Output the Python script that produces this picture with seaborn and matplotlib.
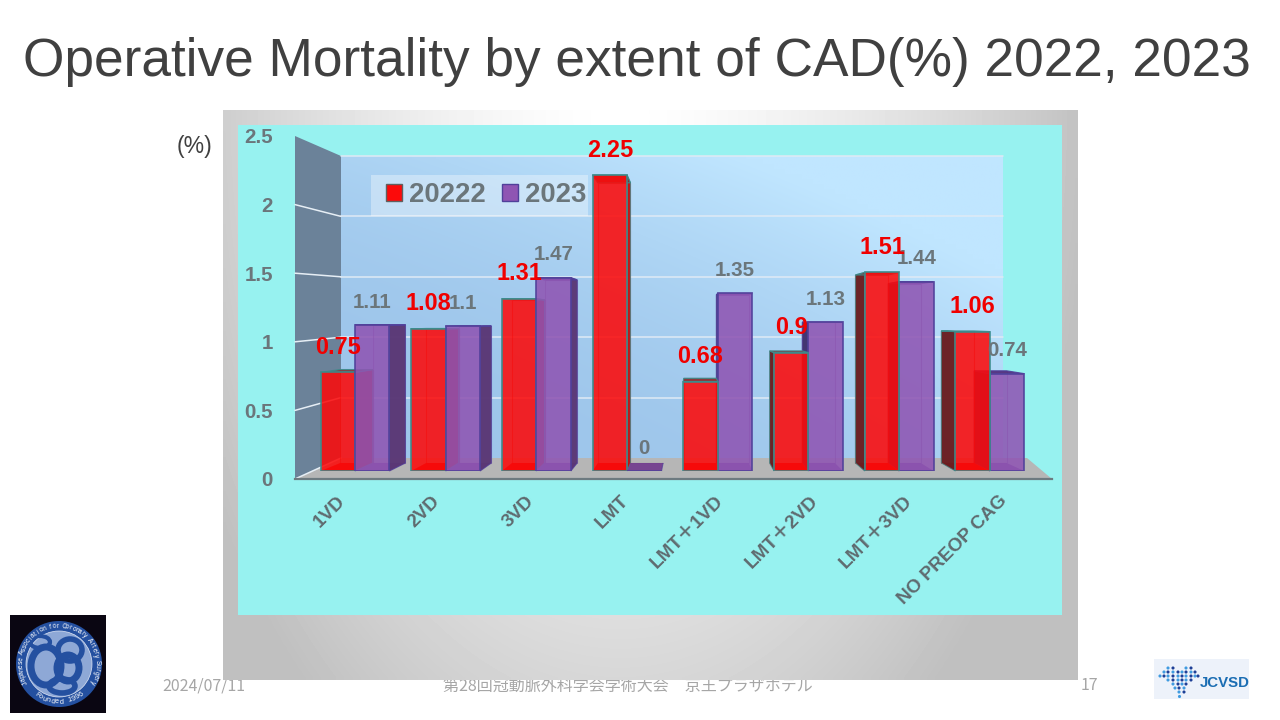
import math
import numpy as np
import pandas as pd
import matplotlib
matplotlib.use("Agg")
import matplotlib.pyplot as plt
from matplotlib.colors import to_rgba
from matplotlib.patches import Polygon, Rectangle, Circle, Ellipse
from matplotlib.transforms import ScaledTranslation
import seaborn as sns

categories = ["1VD", "2VD", "3VD", "LMT", "LMT＋1VD", "LMT＋2VD", "LMT＋3VD", "NO PREOP CAG"]
series_names = ["20222", "2023"]
values_2022 = [0.75, 1.08, 1.31, 2.25, 0.68, 0.9, 1.51, 1.06]
values_2023 = [1.11, 1.1, 1.47, 0, 1.35, 1.13, 1.44, 0.74]
y_ticks = [0, 0.5, 1, 1.5, 2, 2.5]
y_tick_labels = ["0", "0.5", "1", "1.5", "2", "2.5"]
title_text = "Operative Mortality by extent of CAD(%) 2022, 2023"
footer_date = "2024/07/11"
footer_mid = "第28回冠動脈外科学会学術大会　京王プラザホテル"
footer_page = "17"

sns.set_theme(style="white")
plt.rcParams["font.family"] = ["Liberation Sans", "Noto Sans CJK JP", "DejaVu Sans"]

W, H = 1280, 720
PX = 72 / 100  # points per pixel at dpi 100
GREY = "#6b767b"
RED, PURPLE = "#fc0a0a", "#8f55b3"
EDGE = {0: "#3a8c8c", 1: "#50409a"}
SIDE_R = {0: "#c40f10", 1: "#5a3775"}   # faces turned to the right
SIDE_L = {0: "#6a1d20", 1: "#40306e"}   # faces turned to the left
BASE = {0: "#d80808", 1: "#74408f"}
TOP = {0: "#8c3034", 1: "#54307e"}
BACK = {0: "#d01010", 1: "#6a3f90"}


def axpos(x0, x1, ytop, ybot):
    return [x0 / W, 1 - ybot / H, (x1 - x0) / W, (ybot - ytop) / H]


fig = plt.figure(figsize=(12.8, 7.2), dpi=100, facecolor="white")

# ---------- pixel-space backdrop ----------
bg = fig.add_axes([0, 0, 1, 1], zorder=0)
bg.set_axis_off()

fig.text(637 / W, 1 - 62 / H, title_text, ha="center", va="center", color="#404040",
         fontsize=53.3 * PX)

for x, s in [(204, footer_date), (628, footer_mid), (1089, footer_page)]:
    bg.text(x, 686, s, ha="center", va="center", color="#a6a6a6", fontsize=16 * PX,
            family=["Noto Sans CJK JP", "DejaVu Sans"], zorder=0.5)

yy, xx = np.mgrid[110:680:114j, 223:1078:171j]
dist = np.sqrt(((xx - 620) / 430) ** 2 + ((yy - 115) / 700) ** 2)
shade = np.clip(255 - 55 * dist ** 1.5, 192, 255) / 255
bg.imshow(shade, extent=(223, 1078, 680, 110), cmap="gray", vmin=0, vmax=1, aspect="auto",
          interpolation="bilinear", zorder=1)
bg.add_patch(Rectangle((238, 125), 824, 490, fc="#97f2f0", ec="none", zorder=1.1))

yw, xw = np.mgrid[0:1:60j, 0:1:120j]
t = np.clip(0.62 * xw + 0.62 * (1 - yw) - 0.25 * (1 - xw) * yw, 0, 1)
t = np.clip(t ** 2.0, 0, 1)
wall_rgb = np.dstack([(158 + 34 * t) / 255, (198 + 32 * t) / 255, (235 + 20 * t) / 255])
bg.imshow(wall_rgb, extent=(341, 1003, 458, 156), aspect="auto", interpolation="bilinear", zorder=1.2)
bg.add_patch(Polygon([(295, 136), (341, 156), (341, 458), (295, 479)], fc="#6b8299", ec="none", zorder=1.3))
bg.add_patch(Polygon([(295, 479), (1052, 479), (1027, 458), (341, 458)], fc="#b6b6b6", ec="none", zorder=1.3))
for v in y_ticks:
    yf, yb = 479 - v * 137.2, 458 - v * 120.8
    if v < y_ticks[-1]:
        bg.plot([295, 341], [yf, yb], color="#e6eef5", lw=1.1, zorder=1.4)
    if v > 0:
        bg.plot([341, 1003], [yb, yb], color="#dfeaf5", lw=1.1, zorder=1.4)
bg.add_patch(Rectangle((371, 175), 217, 41, fc=to_rgba("white", 0.35), ec="none", zorder=1.5))

# left logo
bg.add_patch(Rectangle((10, 615), 96, 98, fc="#0a0612", ec="none", zorder=1))
cx, cy = 59, 664
bg.add_patch(Circle((cx, cy), 43, fc="#2450a0", ec="none", zorder=1.1))
bg.add_patch(Circle((cx, cy), 33, fc="#8ea8d6", ec="#dfe6f5", lw=0.5, zorder=1.2))
for (ex, ey, ew, eh, lw) in [(46, 666, 30, 38, 5), (70, 650, 24, 22, 4), (68, 668, 22, 26, 5),
                             (62, 686, 26, 14, 4), (40, 642, 20, 12, 3)]:
    bg.add_patch(Ellipse((ex, ey), ew, eh, fc="none", ec="#2450a0", lw=lw, zorder=1.3))
logo_top = "Japanese Association for Coronary Artery Surgery"
for i, ch in enumerate(logo_top):
    ang = math.radians(-118 + 236 * i / (len(logo_top) - 1))
    bg.text(cx + 38 * math.sin(ang), cy - 38 * math.cos(ang), ch, color="white", fontsize=4.8,
            rotation=-math.degrees(ang), rotation_mode="anchor", ha="center", va="center", zorder=1.4)
logo_bot = "Founded 1996"
for i, ch in enumerate(logo_bot):
    ang = math.radians(-36 + 72 * i / (len(logo_bot) - 1))
    bg.text(cx + 38 * math.sin(ang), cy + 38 * math.cos(ang), ch, color="white", fontsize=5.2,
            rotation=math.degrees(ang), rotation_mode="anchor", ha="center", va="center", zorder=1.4)

# right logo
bg.add_patch(Rectangle((1154, 659), 95, 40, fc="#edf2fa", ec="none", zorder=1))
heart_rows = [(668, [1168, 1173, 1186, 1191]), (672, [1164, 1168, 1173, 1178, 1182, 1186, 1191, 1195]),
              (676, [1160, 1164, 1168, 1173, 1178, 1182, 1186, 1191, 1195, 1198]),
              (680, [1168, 1173, 1178, 1182, 1186, 1191]), (684, [1173, 1178, 1182, 1186]),
              (688, [1175, 1179, 1184]), (692, [1179, 1184]), (696, [1179])]
for row, xs in heart_rows:
    bg.scatter(xs, [row] * len(xs), s=5, color=["#1d3f96" if k % 2 else "#3f9be0" for k in range(len(xs))],
               linewidths=0, zorder=1.1)
bg.text(1225, 683, "JCVSD", color="#1a6db3", fontsize=15 * PX, ha="center", va="center",
        weight="bold", zorder=1.2)
bg.text(194, 147, "(%)", color="#404040", fontsize=23 * PX, ha="center", va="center", zorder=1.6)
bg.set_xlim(0, W)
bg.set_ylim(H, 0)

# ---------- axis frame of the chart ----------
axw = fig.add_axes(axpos(295, 1052, 136, 479), zorder=1)
axw.patch.set_alpha(0)
axw.set_xlim(-0.5, len(categories) - 0.5)
axw.set_ylim(0, y_ticks[-1])
axw.set_yticks(y_ticks, y_tick_labels)
axw.set_xticks(range(len(categories)), categories)
axw.tick_params(axis="y", length=0, pad=22 * PX, labelsize=20.5 * PX, labelcolor=GREY)
axw.tick_params(axis="x", length=0, pad=13.5 * PX, labelsize=19 * PX, labelcolor="#5f6b70")
for lab in axw.get_yticklabels():
    lab.set_fontweight("bold")
shift = ScaledTranslation(-6 / 100, 0, fig.dpi_scale_trans)
for lab in axw.get_xticklabels():
    lab.set(rotation=45, ha="right", rotation_mode="anchor", fontweight="bold")
    lab.set_transform(lab.get_transform() + shift)
for side in ["top", "left", "right"]:
    axw.spines[side].set_visible(False)
axw.spines["bottom"].set(color="#6d7a80", linewidth=1.6)

# ---------- bars ----------
ax = fig.add_axes(axpos(309.65, 1035.2, 142.25, 471), zorder=2)
df = pd.DataFrame({
    "category": categories * 2,
    "value": values_2022 + values_2023,
    "year": [series_names[0]] * len(categories) + [series_names[1]] * len(categories),
})
sns.barplot(data=df, x="category", y="value", hue="year", order=categories, hue_order=series_names,
            palette=[RED, PURPLE], saturation=1, width=0.76, alpha=0.87, errorbar=None, ax=ax)
ax.set_xlim(-0.5, len(categories) - 0.5)
ax.set_ylim(0, 2.5)
ax.patch.set_alpha(0)
ax.set_xlabel("")
ax.set_ylabel("")

XV, YV, K = 691, 320, 0.053


def to_px(x, y):
    return bg.transData.inverted().transform(ax.transData.transform((x, y)))


def back(p):
    return (p[0] + (XV - p[0]) * K, p[1] + (YV - p[1]) * K)


for s, cont in enumerate(ax.containers):
    for i, bar in enumerate(cont.patches):
        x0, x1 = bar.get_x(), bar.get_x() + bar.get_width()
        v = bar.get_height()
        fl, fr = to_px(x0, 0), to_px(x1, 0)
        tl, tr = to_px(x0, v), to_px(x1, v)
        bl, br, ul, ur = back(fl), back(fr), back(tl), back(tr)
        center = 0.5 * (fl[0] + fr[0])
        # painter's order: the nearer neighbour of a pair is painted later
        order = s if center < XV else 1 - s
        z0 = 3 + 2 * order
        bar.set_zorder(z0 + 1)
        bar.set_edgecolor(to_rgba(EDGE[s], 1))
        bar.set_linewidth(1.3)

        def add(pts, fc, alpha=0.95, ec="none", lw=0.0, dz=0.0):
            ax.add_patch(Polygon(pts, closed=True, fc=to_rgba(fc, alpha), ec=ec, lw=lw,
                                 transform=bg.transData, clip_on=False, zorder=z0 + dz))

        add([bl, br, ur, ul], BACK[s], alpha=0.04, ec=to_rgba(BACK[s], 0.5), lw=0.8)
        add([fl, fr, br, bl], BASE[s], alpha=0.95, dz=0.1)
        if fr[0] < XV:
            add([fr, tr, ur, br], SIDE_R[s], alpha=0.97, ec=to_rgba(EDGE[s], 0.7), lw=0.8, dz=0.2)
        if fl[0] > XV:
            add([fl, tl, ul, bl], SIDE_L[s], alpha=0.97, ec=to_rgba(EDGE[s], 0.7), lw=0.8, dz=0.2)
        if v > 0:
            add([tl, tr, ur, ul], TOP[s], alpha=0.95, ec=to_rgba(EDGE[s], 0.9), lw=0.9, dz=0.3)
        ax.annotate(f"{v:g}", xy=(0.5 * (x0 + x1), v), xytext=(0, 25 if s == 0 else 23),
                    textcoords="offset pixels", ha="center", va="center", annotation_clip=False,
                    color="#f00000" if s == 0 else GREY, fontsize=(23.5 if s == 0 else 20.5) * PX,
                    fontweight="bold", zorder=20 - s)
ax.set_axis_off()

handles, labels = ax.get_legend_handles_labels()
leg = ax.legend(handles, labels, title=None, ncol=2, loc="center", bbox_to_anchor=(486.5, 195.5),
                bbox_transform=bg.transData, frameon=False,
                prop={"size": 27.5 * PX, "weight": "bold"},
                labelcolor=GREY, handlelength=0.58, handleheight=0.58, handletextpad=0.25,
                columnspacing=0.6, borderpad=0, borderaxespad=0)
leg.set_zorder(2.5)
for h, s in zip(leg.legend_handles, [0, 1]):
    h.set_alpha(1)
    h.set_edgecolor(EDGE[s] if s else "#606060")
    h.set_linewidth(1)

fig.savefig("out.png", dpi=100)
